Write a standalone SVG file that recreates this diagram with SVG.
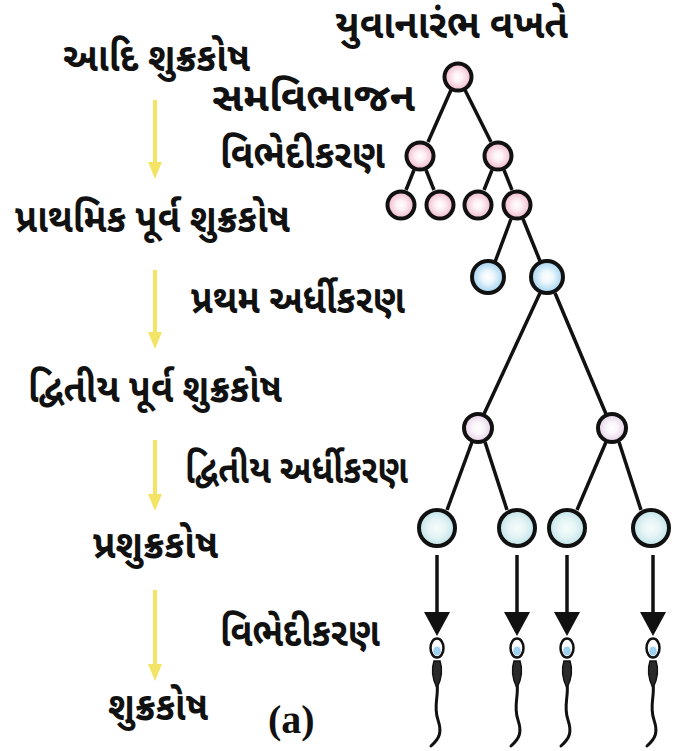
<svg xmlns="http://www.w3.org/2000/svg" width="679" height="751" viewBox="0 0 679 751">
  <defs>
    <style>
      .lbl { font-family: "Noto Sans Gujarati", "Lohit Gujarati", "Noto Sans", sans-serif; font-size: 40px; font-weight: bold; fill: #111; }
      .cap { font-family: "Liberation Serif", serif; font-size: 40px; font-weight: bold; fill: #111; }
      .cell { stroke: #111; stroke-width: 4; }
      .edge { stroke: #111; stroke-width: 3.5; fill: none; }
      .yarrow { stroke: #f4e466; stroke-width: 4; fill: none; }
      .yhead { fill: #f4e466; }
      .darrow { stroke: #111; stroke-width: 3.5; fill: none; }
      .dhead { fill: #111; }
      .tail { stroke: #111; stroke-width: 3; fill: none; stroke-linecap: round; }
    </style>
    <radialGradient id="gPink">
      <stop offset="0" stop-color="#ffffff"/>
      <stop offset="0.35" stop-color="#fdf0f4"/>
      <stop offset="1" stop-color="#efb6ca"/>
    </radialGradient>
    <radialGradient id="gBlue">
      <stop offset="0" stop-color="#ffffff"/>
      <stop offset="0.35" stop-color="#eef8fd"/>
      <stop offset="1" stop-color="#9fd2f0"/>
    </radialGradient>
    <radialGradient id="gLav">
      <stop offset="0" stop-color="#ffffff"/>
      <stop offset="0.4" stop-color="#faf5fa"/>
      <stop offset="1" stop-color="#e3cfe6"/>
    </radialGradient>
    <radialGradient id="gCyan">
      <stop offset="0" stop-color="#f6fcfc"/>
      <stop offset="0.5" stop-color="#e4f4f5"/>
      <stop offset="1" stop-color="#bfe3e8"/>
    </radialGradient>
    <g id="sperm">
      <path class="tail" d="M0,36 C2,48 -4,58 1,72 C5,84 3,90 -6,98"/>
      <path d="M-3,13 C-6,22 -4,32 0,40 C4,32 6,22 3,13 Z" fill="#2a2a2a" stroke="#111" stroke-width="1.5"/>
      <ellipse cx="0" cy="0" rx="6.5" ry="9.5" fill="#ffffff" stroke="#111" stroke-width="2.5"/>
      <ellipse cx="0" cy="3" rx="3.8" ry="4.5" fill="#9fd0ee"/>
    </g>
  </defs>

  <!-- stage labels, left column -->
  <g id="stage-labels">
    <text class="lbl" x="63" y="71" textLength="187" lengthAdjust="spacingAndGlyphs">આદિ શુક્રકોષ</text>
    <text class="lbl" x="15" y="232" textLength="275" lengthAdjust="spacingAndGlyphs">પ્રાથમિક પૂર્વ શુક્રકોષ</text>
    <text class="lbl" x="28" y="402" textLength="254" lengthAdjust="spacingAndGlyphs">દ્વિતીય પૂર્વ શુક્રકોષ</text>
    <text class="lbl" x="93" y="558" textLength="125" lengthAdjust="spacingAndGlyphs">પ્રશુક્રકોષ</text>
    <text class="lbl" x="108" y="720" textLength="100" lengthAdjust="spacingAndGlyphs">શુક્રકોષ</text>
  </g>

  <!-- process labels -->
  <g id="process-labels">
    <text class="lbl" x="335" y="38" textLength="233" lengthAdjust="spacingAndGlyphs">યુવાનારંભ વખતે</text>
    <text class="lbl" x="212" y="111" textLength="203" lengthAdjust="spacingAndGlyphs">સમવિભાજન</text>
    <text class="lbl" x="220" y="168" textLength="165" lengthAdjust="spacingAndGlyphs">વિભેદીકરણ</text>
    <text class="lbl" x="191" y="313" textLength="214" lengthAdjust="spacingAndGlyphs">પ્રથમ અર્ધીકરણ</text>
    <text class="lbl" x="185" y="483" textLength="223" lengthAdjust="spacingAndGlyphs">દ્વિતીય અર્ધીકરણ</text>
    <text class="lbl" x="220" y="646" textLength="160" lengthAdjust="spacingAndGlyphs">વિભેદીકરણ</text>
    <text class="cap" x="268" y="733">(a)</text>
  </g>

  <!-- yellow stage arrows -->
  <g id="stage-arrows">
    <line class="yarrow" x1="155" y1="100" x2="155" y2="164"/>
    <path class="yhead" d="M148,162 L162,162 L155,179 Z"/>
    <line class="yarrow" x1="155" y1="270" x2="155" y2="334"/>
    <path class="yhead" d="M148,332 L162,332 L155,349 Z"/>
    <line class="yarrow" x1="155" y1="440" x2="155" y2="496"/>
    <path class="yhead" d="M148,494 L162,494 L155,511 Z"/>
    <line class="yarrow" x1="155" y1="590" x2="155" y2="666"/>
    <path class="yhead" d="M148,664 L162,664 L155,681 Z"/>
  </g>

  <!-- connectors of the lineage tree -->
  <g id="connectors">
    <line class="edge" x1="451" y1="90" x2="428" y2="142"/>
    <line class="edge" x1="465" y1="90" x2="491" y2="142"/>
    <line class="edge" x1="414" y1="170" x2="406" y2="190"/>
    <line class="edge" x1="426" y1="170" x2="434" y2="190"/>
    <line class="edge" x1="492" y1="170" x2="484" y2="190"/>
    <line class="edge" x1="504" y1="170" x2="512" y2="190"/>
    <line class="edge" x1="511" y1="219" x2="495" y2="262"/>
    <line class="edge" x1="523" y1="219" x2="540" y2="261"/>
    <line class="edge" x1="540" y1="293" x2="484" y2="414"/>
    <line class="edge" x1="555" y1="293" x2="606" y2="414"/>
    <line class="edge" x1="472" y1="442" x2="447" y2="510"/>
    <line class="edge" x1="485" y1="442" x2="507" y2="510"/>
    <line class="edge" x1="606" y1="442" x2="577" y2="510"/>
    <line class="edge" x1="619" y1="442" x2="641" y2="510"/>
    <!-- differentiation arrows -->
    <line class="darrow" x1="437" y1="555" x2="437" y2="615"/>
    <line class="darrow" x1="517" y1="555" x2="517" y2="615"/>
    <line class="darrow" x1="567" y1="555" x2="567" y2="615"/>
    <line class="darrow" x1="653" y1="555" x2="653" y2="615"/>
    <path class="dhead" d="M424,612 L450,612 L437,636 Z"/>
    <path class="dhead" d="M504,612 L530,612 L517,636 Z"/>
    <path class="dhead" d="M554,612 L580,612 L567,636 Z"/>
    <path class="dhead" d="M640,612 L666,612 L653,636 Z"/>
  </g>

  <!-- spermatogonia -->
  <g id="spermatogonium-1"><circle class="cell" cx="458" cy="77" r="13.5" fill="url(#gPink)"/></g>
  <g id="spermatogonium-2"><circle class="cell" cx="420" cy="156" r="13.5" fill="url(#gPink)"/></g>
  <g id="spermatogonium-3"><circle class="cell" cx="498" cy="156" r="13.5" fill="url(#gPink)"/></g>
  <g id="spermatogonium-4"><circle class="cell" cx="401" cy="205" r="13.5" fill="url(#gPink)"/></g>
  <g id="spermatogonium-5"><circle class="cell" cx="440" cy="205" r="13.5" fill="url(#gPink)"/></g>
  <g id="spermatogonium-6"><circle class="cell" cx="478" cy="205" r="13.5" fill="url(#gPink)"/></g>
  <g id="spermatogonium-7"><circle class="cell" cx="517" cy="205" r="13.5" fill="url(#gPink)"/></g>

  <!-- primary spermatocytes -->
  <g id="primary-1"><circle class="cell" cx="488" cy="277" r="16" fill="url(#gBlue)"/></g>
  <g id="primary-2"><circle class="cell" cx="547" cy="277" r="16" fill="url(#gBlue)"/></g>

  <!-- secondary spermatocytes -->
  <g id="secondary-1"><circle class="cell" cx="478" cy="428" r="14" fill="url(#gLav)"/></g>
  <g id="secondary-2"><circle class="cell" cx="612" cy="428" r="14" fill="url(#gLav)"/></g>

  <!-- spermatids -->
  <g id="spermatid-1"><circle class="cell" cx="437" cy="528" r="18" fill="url(#gCyan)"/></g>
  <g id="spermatid-2"><circle class="cell" cx="517" cy="528" r="18" fill="url(#gCyan)"/></g>
  <g id="spermatid-3"><circle class="cell" cx="567" cy="528" r="18" fill="url(#gCyan)"/></g>
  <g id="spermatid-4"><circle class="cell" cx="651" cy="528" r="18" fill="url(#gCyan)"/></g>

  <!-- spermatozoa -->
  <g id="sperm-1"><use href="#sperm" x="437" y="648"/></g>
  <g id="sperm-2"><use href="#sperm" x="517" y="648"/></g>
  <g id="sperm-3"><use href="#sperm" x="567" y="648"/></g>
  <g id="sperm-4"><use href="#sperm" x="653" y="648"/></g>
</svg>
